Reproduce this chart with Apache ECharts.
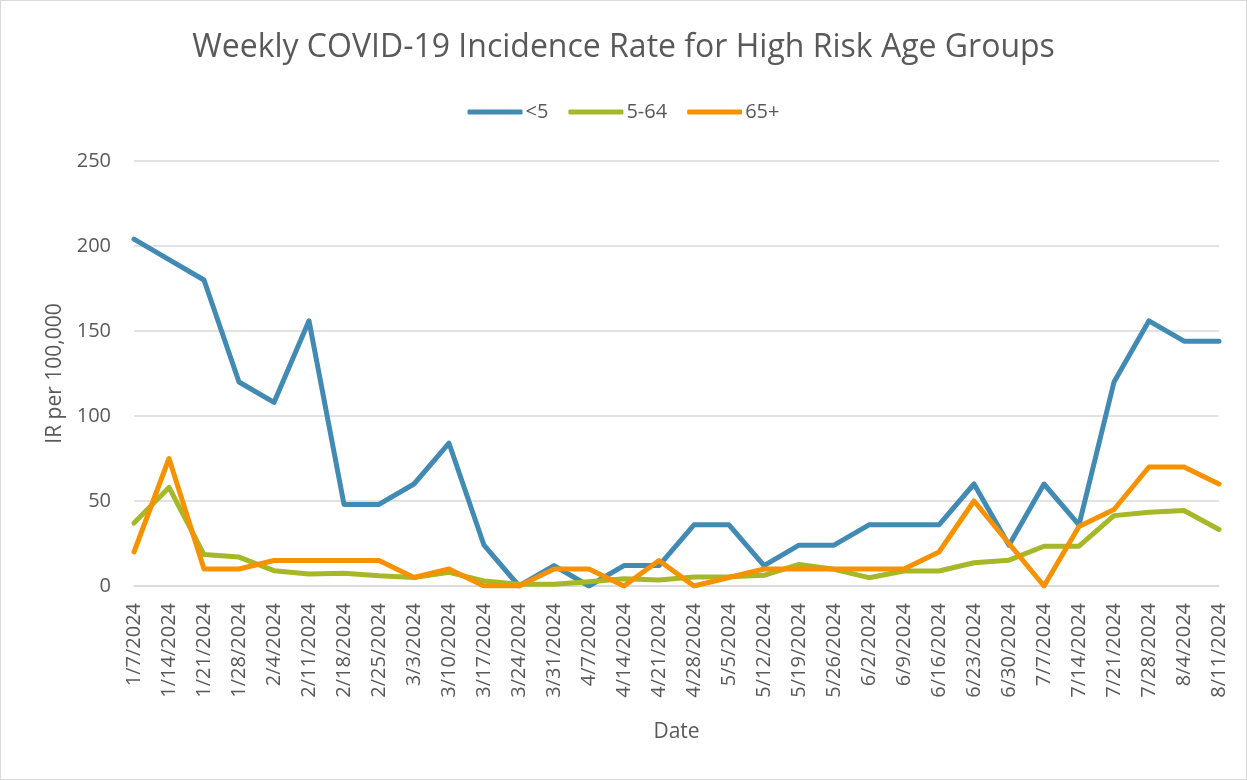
<!DOCTYPE html>
<html>
<head>
<meta charset="utf-8">
<script src="https://cdn.jsdelivr.net/npm/echarts@6/dist/echarts.min.js"></script>
<style>
  html, body { margin: 0; padding: 0; background: #fff; }
  #main { width: 1245px; height: 778px; border: 1px solid #d9d9d9; }
</style>
</head>
<body>
<div id="main"></div>
<script>
// weekly dates
var dates = ['1/7/2024', '1/14/2024', '1/21/2024', '1/28/2024', '2/4/2024', '2/11/2024',
  '2/18/2024', '2/25/2024', '3/3/2024', '3/10/2024', '3/17/2024', '3/24/2024', '3/31/2024',
  '4/7/2024', '4/14/2024', '4/21/2024', '4/28/2024', '5/5/2024', '5/12/2024', '5/19/2024',
  '5/26/2024', '6/2/2024', '6/9/2024', '6/16/2024', '6/23/2024', '6/30/2024', '7/7/2024',
  '7/14/2024', '7/21/2024', '7/28/2024', '8/4/2024', '8/11/2024'];

var under5 = [204, 192, 180, 120, 108, 156, 48, 48, 60, 84, 24, 0, 12, 0, 12, 12,
  36, 36, 12, 24, 24, 36, 36, 36, 60, 24, 60, 36, 120, 156, 144, 144];

var age5to64 = [37, 58, 18.5, 17, 9, 7, 7.5, 6, 5, 8, 3, 1, 1, 2.5, 4.3, 3.5,
  5.3, 5.5, 6.3, 12.7, 9.8, 4.9, 8.8, 8.8, 13.7, 15.2, 23.4, 23.4, 41.4, 43.4, 44.4, 33.2];

var over65 = [20, 75, 10, 10, 15, 15, 15, 15, 5, 10, 0, 0, 10, 10, 0, 15,
  0, 5, 10, 10, 10, 10, 10, 20, 50, 25, 0, 35, 45, 70, 70, 60];

var yTicks = [0, 50, 100, 150, 200, 250];

var fontFam = '"Open Sans", sans-serif';
var txt = '#595959';

var myChart = echarts.init(document.getElementById('main'));
var lineSeries = function (name, data, color) {
  return {
    name: name,
    type: 'line',
    data: data,
    symbol: 'none',
    lineStyle: { width: 5, color: color, cap: 'round', join: 'round' },
    itemStyle: { color: color }
  };
};

var option = {
  textStyle: { fontFamily: fontFam },
  title: {
    text: 'Weekly COVID-19 Incidence Rate for High Risk Age Groups',
    left: 'center',
    top: 26,
    textStyle: { fontSize: 32, fontWeight: 'normal', color: txt, fontFamily: fontFam }
  },
  legend: {
    top: 96,
    left: 'center',
    itemWidth: 55,
    itemHeight: 5,
    itemGap: 20,
    icon: 'roundRect',
    textStyle: { fontSize: 20, color: txt, fontFamily: fontFam, padding: [0, 0, 0, -2] },
    data: ['<5', '5-64', '65+']
  },
  grid: { left: 133, right: 27, top: 160, bottom: 193, containLabel: false },
  xAxis: {
    type: 'category',
    data: dates,
    boundaryGap: false,
    name: 'Date',
    nameLocation: 'middle',
    nameGap: 136,
    nameTextStyle: { fontSize: 21, color: txt, fontFamily: fontFam },
    axisLine: { lineStyle: { color: '#d9d9d9', width: 1.5 } },
    axisTick: { show: false },
    axisLabel: { rotate: 90, fontSize: 20, color: txt, margin: 17, interval: 0, fontFamily: fontFam }
  },
  yAxis: {
    type: 'value',
    min: yTicks[0],
    max: yTicks[yTicks.length - 1],
    interval: 50,
    name: 'IR per 100,000',
    nameLocation: 'middle',
    nameGap: 68,
    nameTextStyle: { fontSize: 21, color: txt, fontFamily: fontFam },
    axisLine: { show: false },
    axisTick: { show: false },
    axisLabel: { fontSize: 20, color: txt, margin: 23, fontFamily: fontFam },
    splitLine: { lineStyle: { color: '#d9d9d9', width: 1.5 } }
  },
  series: [
    lineSeries('<5', under5, '#418AB3'),
    lineSeries('5-64', age5to64, '#A6B727'),
    lineSeries('65+', over65, '#F69200')
  ]
};

myChart.setOption(option);
</script>
</body>
</html>
